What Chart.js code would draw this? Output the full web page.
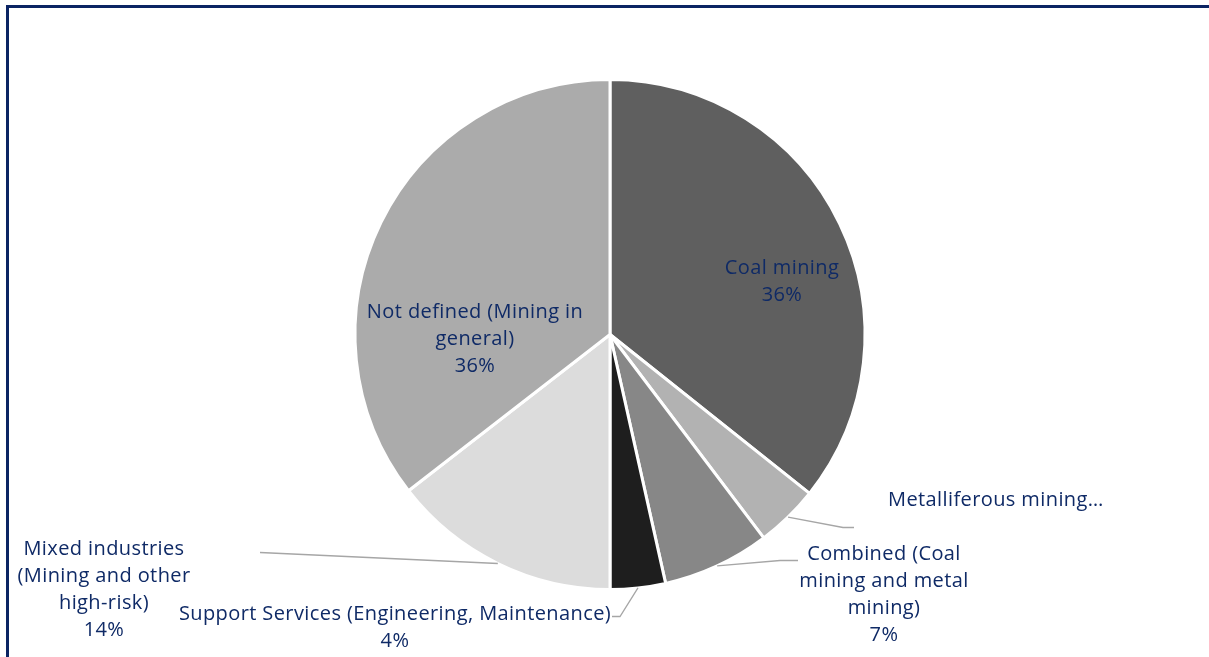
<!DOCTYPE html>
<html>
<head>
<meta charset="utf-8">
<script src="https://cdn.jsdelivr.net/npm/chart.js@4.4.0/dist/chart.umd.min.js"></script>
<style>
  html, body { margin: 0; padding: 0; background: #ffffff; }
  #wrap { position: relative; width: 1209px; height: 657px; overflow: hidden; }
  #frame { position: absolute; left: 6px; top: 5px; width: 1220px; height: 700px;
           border-top: 3px solid #0b2463; border-left: 3px solid #0b2463; }
  canvas { position: absolute; left: 0; top: 0; }
</style>
</head>
<body>
<div id="wrap">
  <div id="frame"></div>
  <canvas id="pie" width="1209" height="657"></canvas>
</div>
<script>
// ---------------------- DATA ------------------------
const categories = [
  "Coal mining",
  "Metalliferous mining",
  "Combined (Coal mining and metal mining)",
  "Support Services (Engineering, Maintenance)",
  "Mixed industries (Mining and other high-risk)",
  "Not defined (Mining in general)"
];
const shares = [35.7, 4.0, 6.8, 3.5, 14.5, 35.5];
const sliceColors = ["#5f5f5f", "#b2b2b2", "#878787", "#1e1e1e", "#dcdcdc", "#ababab"];

// label text lines as shown on the chart
const labelLines = [
  ["Coal mining", "36%"],
  ["Metalliferous mining…"],
  ["Combined (Coal", "mining and metal", "mining)", "7%"],
  ["Support Services (Engineering, Maintenance)", "4%"],
  ["Mixed industries", "(Mining and other", "high-risk)", "14%"],
  ["Not defined (Mining in", "general)", "36%"]
];

// ---------------------- LABEL LAYOUT ------------------------
// text centre (first line) offsets from pie centre, and leader elbow/end offsets
const labelLayout = [
  { dx: 172, dy: -66, align: "center" },
  { dx: 278, dy: 166, align: "left", leader: [[233, 193], [244, 193]] },
  { dx: 274, dy: 220, align: "center", leader: [[170, 226], [188, 226]] },
  { dx: -215, dy: 280, align: "center", leader: [[10, 282], [2, 282]] },
  { dx: -506, dy: 215, align: "center", leader: [[-350, 218]] },
  { dx: -135, dy: -22, align: "center" }
];

const FONT = '20px "Open Sans", "Lato", sans-serif';
const TEXT_COLOR = "#0f2a66";
const LINE_H = 27;

const pieLabels = {
  id: "pieLabels",
  afterDatasetsDraw(chart) {
    const ctx = chart.ctx;
    const arcs = chart.getDatasetMeta(0).data;
    ctx.save();
    ctx.font = FONT;
    ctx.letterSpacing = "0.4px";
    ctx.fillStyle = TEXT_COLOR;
    ctx.textBaseline = "middle";
    arcs.forEach((arc, i) => {
      const cx = arc.x, cy = arc.y;
      const lay = labelLayout[i];
      if (lay.leader) {
        const mid = (arc.startAngle + arc.endAngle) / 2;
        ctx.beginPath();
        ctx.strokeStyle = "#a6a6a6";
        ctx.lineWidth = 1.3;
        ctx.moveTo(cx + Math.cos(mid) * arc.outerRadius, cy + Math.sin(mid) * arc.outerRadius);
        lay.leader.forEach(p => ctx.lineTo(cx + p[0], cy + p[1]));
        ctx.stroke();
      }
      ctx.textAlign = lay.align;
      labelLines[i].forEach((line, k) => {
        ctx.fillText(line, cx + lay.dx, cy + lay.dy + k * LINE_H);
      });
    });
    ctx.restore();
  }
};

new Chart(document.getElementById("pie").getContext("2d"), {
  type: "pie",
  data: {
    labels: categories,
    datasets: [{
      data: shares,
      backgroundColor: sliceColors,
      borderColor: "#ffffff",
      borderWidth: 3,
      hoverOffset: 0
    }]
  },
  options: {
    responsive: false,
    animation: false,
    layout: { padding: { top: 78, bottom: 66, left: 99, right: 88 } },
    plugins: {
      legend: { display: false },
      tooltip: { enabled: false }
    }
  },
  plugins: [pieLabels]
});
</script>
</body>
</html>
